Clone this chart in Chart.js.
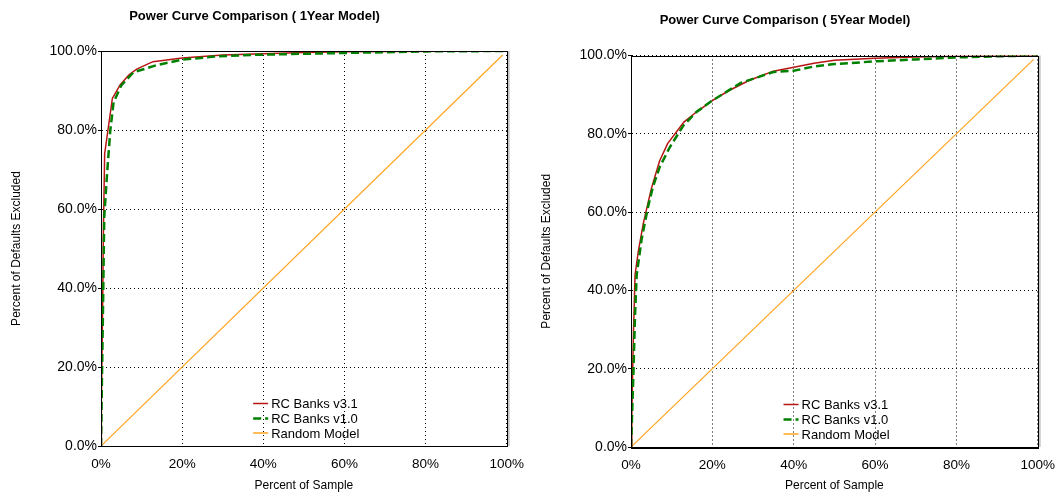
<!DOCTYPE html>
<html>
<head>
<meta charset="utf-8">
<script src="https://cdn.jsdelivr.net/npm/chart.js@4.4.0/dist/chart.umd.min.js"></script>
<style>
    body { margin: 0; background: #fff; }
    .box { position: absolute; top: 0; height: 500px; }
    #box1y { left: 0; width: 530px; }
    #box5y { left: 530px; width: 531px; }
</style>
</head>
<body>
<div class="box" id="box1y"><canvas id="chart1y"></canvas></div>
<div class="box" id="box5y"><canvas id="chart5y"></canvas></div>
<script>
// axis ticks (percent)
var tickSteps = [0, 20, 40, 60, 80, 100];

// 1 year model - percent of sample vs percent of defaults excluded
var sample1yV31   = [0, 0.1, 0.4, 0.6, 0.9, 2.8, 4.7, 6.9, 8.8, 12.8, 20, 30, 40, 50, 60, 70, 100];
var defaults1yV31 = [0, 12, 35, 55, 74, 88, 91.4, 94, 95.4, 97.3, 98.2, 99, 99.3, 99.6, 99.8, 99.9, 100];
var sample1yV10   = [0, 0.25, 0.5, 0.8, 1.5, 2.3, 3.1, 5, 8, 14, 20, 28, 37, 50, 60, 70, 80, 100];
var defaults1yV10 = [0, 18, 35, 58, 69, 80, 87, 91.3, 94.6, 96.5, 97.8, 98.6, 99, 99.3, 99.5, 99.7, 99.9, 100];

// 5 year model
var sample5yV31   = [0, 0.2, 0.4, 0.6, 1.0, 1.8, 3, 5, 7, 9, 13, 16, 20, 24, 29, 35, 40, 45, 50, 60, 70, 80, 100];
var defaults5yV31 = [0, 8, 19, 29, 44, 50, 57, 66, 73, 77.5, 83, 85.5, 88.5, 91, 93.6, 96, 97, 98, 98.8, 99.3, 99.6, 99.8, 100];
var sample5yV10   = [0, 0.2, 0.6, 1.0, 1.4, 2.6, 4.2, 5.4, 7.1, 9.5, 12.8, 16, 20, 27, 35, 40, 45, 50, 60, 70, 80, 90, 100];
var defaults5yV10 = [0, 6, 19, 34, 44, 53, 61.4, 66.5, 71.6, 76.5, 82, 85.5, 88.5, 93, 95.8, 96.1, 97.2, 97.8, 98.5, 99, 99.5, 99.8, 100];

// random model diagonal
var sampleRandom   = [0, 99];
var defaultsRandom = [0, 99];

var FONT = 'Liberation Sans, Arial, sans-serif';

function toPoints(xs, ys) {
    return xs.map(function (x, i) { return { x: x, y: ys[i] }; });
}

// legend drawn inside the plot area, near the bottom
var insideLegend = {
    id: 'insideLegend',
    afterDatasetsDraw: function (chart) {
        var ctx = chart.ctx;
        var a = chart.chartArea;
        var x = a.left + a.width * 0.375;
        var rows = [42.5, 27.5, 13];
        ctx.save();
        ctx.font = '13px ' + FONT;
        ctx.textBaseline = 'middle';
        chart.data.datasets.forEach(function (ds, i) {
            var y = a.bottom - rows[i];
            ctx.strokeStyle = ds.borderColor;
            ctx.lineWidth = Math.max(ds.borderWidth, 1.5);
            ctx.setLineDash(ds.borderDash || []);
            ctx.beginPath();
            ctx.moveTo(x, y);
            ctx.lineTo(x + 15, y);
            ctx.stroke();
            ctx.setLineDash([]);
            ctx.fillStyle = '#000';
            ctx.fillText(ds.label, x + 18, y + 1);
        });
        ctx.restore();
    }
};

// box round the plot area with a light shadow on the right
var plotFrame = {
    id: 'plotFrame',
    afterDraw: function (chart) {
        var ctx = chart.ctx;
        var a = chart.chartArea;
        ctx.save();
        ctx.strokeStyle = '#c8c8c8';
        ctx.lineWidth = 2;
        ctx.beginPath();
        ctx.moveTo(a.right + 2, a.top);
        ctx.lineTo(a.right + 2, a.bottom);
        ctx.stroke();
        ctx.strokeStyle = '#000';
        ctx.lineWidth = 1;
        ctx.strokeRect(Math.round(a.left) + 0.5, Math.round(a.top) + 0.5,
            Math.round(a.width), Math.round(a.height));
        ctx.restore();
    }
};

function makeChart(id, title, v31x, v31y, v10x, v10y, titlePad, bottomH) {
    var ctx = document.getElementById(id).getContext('2d');
    return new Chart(ctx, {
        type: 'line',
        data: {
            datasets: [
                {
                    label: 'RC Banks v3.1',
                    data: toPoints(v31x, v31y),
                    borderColor: '#b81414',
                    borderWidth: 1.5,
                    order: 1
                },
                {
                    label: 'RC Banks v1.0',
                    data: toPoints(v10x, v10y),
                    borderColor: '#008000',
                    borderWidth: 2.5,
                    borderDash: [8, 4],
                    order: 0
                },
                {
                    label: 'Random Model',
                    data: toPoints(sampleRandom, defaultsRandom),
                    borderColor: '#ffa41f',
                    borderWidth: 1.2,
                    order: 2
                }
            ]
        },
        options: {
            responsive: true,
            maintainAspectRatio: false,
            animation: false,
            elements: {
                point: { radius: 0 },
                line: { tension: 0, fill: false }
            },
            layout: {
                padding: { left: 0, right: 21, top: 0, bottom: 0 }
            },
            scales: {
                x: {
                    type: 'linear',
                    min: 0,
                    max: 100,
                    afterBuildTicks: function (s) {
                        s.ticks = tickSteps.map(function (v) { return { value: v }; });
                    },
                    afterFit: function (s) { s.height = bottomH; },
                    ticks: {
                        color: '#000',
                        padding: 6,
                        maxRotation: 0,
                        font: { family: FONT, size: 13.5 },
                        callback: function (v) { return v + '%'; }
                    },
                    grid: {
                        color: '#000',
                        lineWidth: 1,
                        tickLength: 4,
                        tickColor: 'rgba(0,0,0,0)'
                    },
                    // in v4 the border dash is what dots the grid lines
                    border: { display: true, color: '#000', width: 1, dash: [1, 3] },
                    title: {
                        display: true,
                        text: 'Percent of Sample',
                        color: '#000',
                        font: { family: FONT, size: 12 },
                        padding: { top: 2, bottom: 7 }
                    }
                },
                y: {
                    type: 'linear',
                    min: 0,
                    max: 100,
                    afterBuildTicks: function (s) {
                        s.ticks = tickSteps.map(function (v) { return { value: v }; });
                    },
                    afterFit: function (s) { s.width = 101; },
                    ticks: {
                        color: '#000',
                        padding: 1,
                        font: { family: FONT, size: 14 },
                        callback: function (v) { return v.toFixed(1) + '%'; }
                    },
                    grid: {
                        color: '#000',
                        lineWidth: 1,
                        tickLength: 3,
                        tickColor: '#000',
                        tickBorderDash: []
                    },
                    border: { display: true, color: '#000', width: 1, dash: [1, 3] },
                    title: {
                        display: true,
                        text: 'Percent of Defaults Excluded',
                        color: '#000',
                        font: { family: FONT, size: 12 },
                        padding: { top: 9, bottom: 2 }
                    }
                }
            },
            plugins: {
                legend: { display: false },
                tooltip: { enabled: false },
                title: {
                    display: true,
                    text: title,
                    color: '#000',
                    font: { family: FONT, size: 13, weight: 'bold' },
                    padding: titlePad
                }
            }
        },
        plugins: [insideLegend, plotFrame]
    });
}

makeChart('chart1y', 'Power Curve Comparison ( 1Year Model)',
    sample1yV31, defaults1yV31, sample1yV10, defaults1yV10,
    { top: 9, bottom: 26.4 }, 54);
makeChart('chart5y', 'Power Curve Comparison ( 5Year Model)',
    sample5yV31, defaults5yV31, sample5yV10, defaults5yV10,
    { top: 13, bottom: 26.9 }, 53);
</script>
</body>
</html>
